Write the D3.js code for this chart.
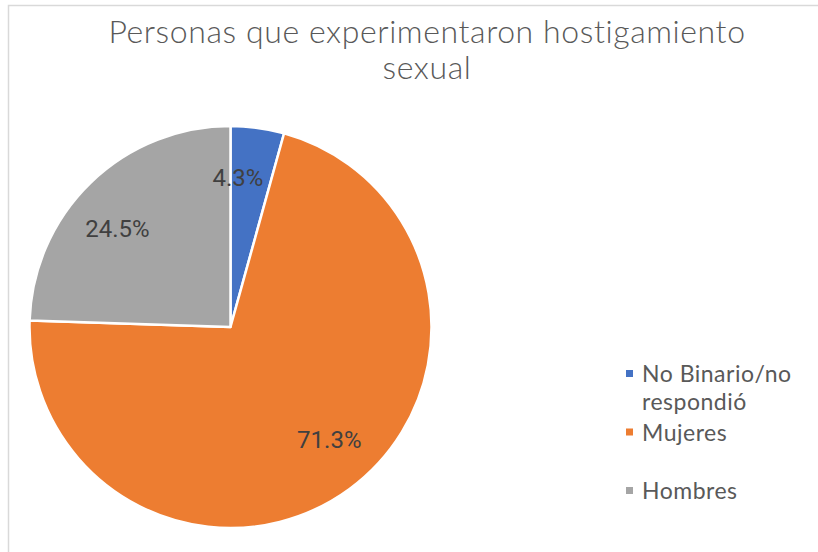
<!DOCTYPE html>
<html>
<head>
<meta charset="utf-8">
<script src="https://cdn.jsdelivr.net/npm/d3@7"></script>
<style>
  body { margin: 0; background: #fff; }
  svg { display: block; font-family: "Century Gothic", "Lato", sans-serif; }
</style>
</head>
<body>
<svg id="chart"></svg>
<script>
// chart data
const categories = ["No Binario/no respondió", "Mujeres", "Hombres"];
const values = [4.3, 71.3, 24.5];
const colors = ["#4472C4", "#ED7D31", "#A5A5A5"];
const legendLines = [["No Binario/no", "respondió"], ["Mujeres"], ["Hombres"]];
const titleLines = ["Personas que experimentaron hostigamiento", "sexual"];

const width = 818, height = 552;
const cx = 230.5, cy = 327, radius = 201;

const svg = d3.select("#chart")
  .attr("width", width)
  .attr("height", height);

svg.append("rect")
  .attr("width", width)
  .attr("height", height)
  .attr("fill", "#fff");

// chart frame (only top and left edges show in the crop)
svg.append("path")
  .attr("d", `M8.5,${height} L8.5,5.5 L${width},5.5`)
  .attr("fill", "none")
  .attr("stroke", "#d9d9d9")
  .attr("stroke-width", 1.5);

// title
svg.append("text")
  .attr("text-anchor", "middle")
  .attr("fill", "#595959")
  .attr("font-size", "32px")
  .attr("font-weight", 300)
  .attr("letter-spacing", "0.6px")
  .selectAll("tspan")
  .data(titleLines)
  .join("tspan")
  .attr("x", 427)
  .attr("y", (d, i) => 43 + i * 36)
  .text(d => d);

const pie = d3.pie().sort(null).value(d => d);
const arcs = pie(values);

const arc = d3.arc().innerRadius(0).outerRadius(radius);
const labelArc = d3.arc().innerRadius(150).outerRadius(150);

const g = svg.append("g")
  .attr("transform", `translate(${cx},${cy})`);

g.selectAll("path.slice")
  .data(arcs)
  .join("path")
  .attr("class", "slice")
  .attr("d", arc)
  .attr("fill", (d, i) => colors[i])
  .attr("stroke", "#fff")
  .attr("stroke-width", 2.5)
  .attr("stroke-linejoin", "round");

// data labels, nudged a bit counter-clockwise like Excel's best fit
const shift = -0.085;
g.selectAll("text.label")
  .data(arcs)
  .join("text")
  .attr("class", "label")
  .attr("transform", d => {
    const c = labelArc.centroid({ startAngle: d.startAngle + shift, endAngle: d.endAngle + shift });
    return `translate(${c[0]},${c[1]})`;
  })
  .attr("text-anchor", "middle")
  .attr("dy", "0.35em")
  .attr("fill", "#404040")
  .attr("font-family", "Roboto, sans-serif")
  .attr("font-size", "24px")
  .text(d => d3.format(".1f")(d.data) + "%");

// legend
const legendY = d3.scalePoint().domain(categories).range([382, 499]);

const legend = svg.append("g")
  .selectAll("g")
  .data(categories)
  .join("g")
  .attr("transform", d => `translate(626,${legendY(d)})`);

legend.append("rect")
  .attr("x", 0)
  .attr("y", -12)
  .attr("width", 7)
  .attr("height", 7)
  .attr("fill", (d, i) => colors[i]);

legend.append("text")
  .attr("fill", "#595959")
  .attr("font-size", "23px")
  .attr("letter-spacing", "0.5px")
  .selectAll("tspan")
  .data((d, i) => legendLines[i])
  .join("tspan")
  .attr("x", 16)
  .attr("y", (d, i) => i * 28)
  .text(d => d);
</script>
</body>
</html>
